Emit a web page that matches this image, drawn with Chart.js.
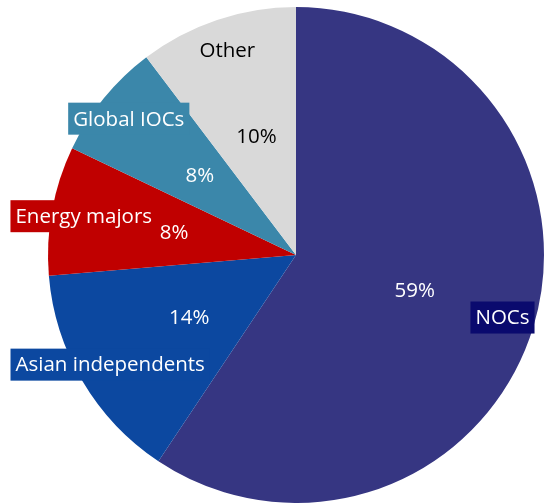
<!DOCTYPE html>
<html>
<head>
<meta charset="utf-8">
<script src="https://cdn.jsdelivr.net/npm/chart.js@4.4.0/dist/chart.umd.min.js"></script>
<style>
  html, body { margin: 0; padding: 0; background: #fff; }
  #wrap { width: 544px; height: 503px; }
</style>
</head>
<body>
<div id="wrap"><canvas id="pieChart"></canvas></div>
<script>
// Share of ownership by company type (%)
const categories = ["NOCs", "Asian independents", "Energy majors", "Global IOCs", "Other"];
const shares = [59.3, 14.3, 8.4, 7.6, 10.3];
const sliceColors = ["#363682", "#0c48a0", "#c00000", "#3b87aa", "#d9d9d9"];
const labelBoxColors = ["#0a0a6e", "#0c48a0", "#c00000", "#3b87aa", null];
const textColors = ["#ffffff", "#ffffff", "#ffffff", "#ffffff", "#000000"];

const labelFont = '20.5px "Open Sans", sans-serif';

// draws the % value at half radius and the category name further out
const sliceLabels = {
  id: "sliceLabels",
  afterDatasetsDraw(chart) {
    const ctx = chart.ctx;
    const meta = chart.getDatasetMeta(0);
    const total = shares.reduce((a, b) => a + b, 0);
    ctx.save();
    ctx.font = labelFont;
    ctx.textAlign = "center";
    ctx.textBaseline = "middle";
    meta.data.forEach((arc, i) => {
      const mid = (arc.startAngle + arc.endAngle) / 2;
      const r = arc.outerRadius;

      // percent
      const px = arc.x + Math.cos(mid) * r * 0.5;
      const py = arc.y + Math.sin(mid) * r * 0.5;
      ctx.fillStyle = textColors[i];
      ctx.fillText(Math.round(shares[i] / total * 100) + "%", px, py);

      // category name with box
      const lx = arc.x + Math.cos(mid) * r * 0.87;
      const ly = arc.y + Math.sin(mid) * r * 0.87;
      const w = ctx.measureText(categories[i]).width + 10;
      const h = 32;
      if (labelBoxColors[i]) {
        ctx.fillStyle = labelBoxColors[i];
        ctx.fillRect(lx - w / 2, ly - h / 2, w, h);
      }
      ctx.fillStyle = textColors[i];
      ctx.fillText(categories[i], lx, ly + 1);
    });
    ctx.restore();
  }
};

new Chart(document.getElementById("pieChart").getContext("2d"), {
  type: "pie",
  data: {
    labels: categories,
    datasets: [{
      data: shares,
      backgroundColor: sliceColors,
      borderWidth: 0
    }]
  },
  options: {
    responsive: true,
    maintainAspectRatio: false,
    animation: false,
    layout: { padding: { left: 48, right: 0, top: 7, bottom: 0 } },
    plugins: {
      legend: { display: false },
      tooltip: { enabled: false }
    }
  },
  plugins: [sliceLabels]
});
</script>
</body>
</html>
